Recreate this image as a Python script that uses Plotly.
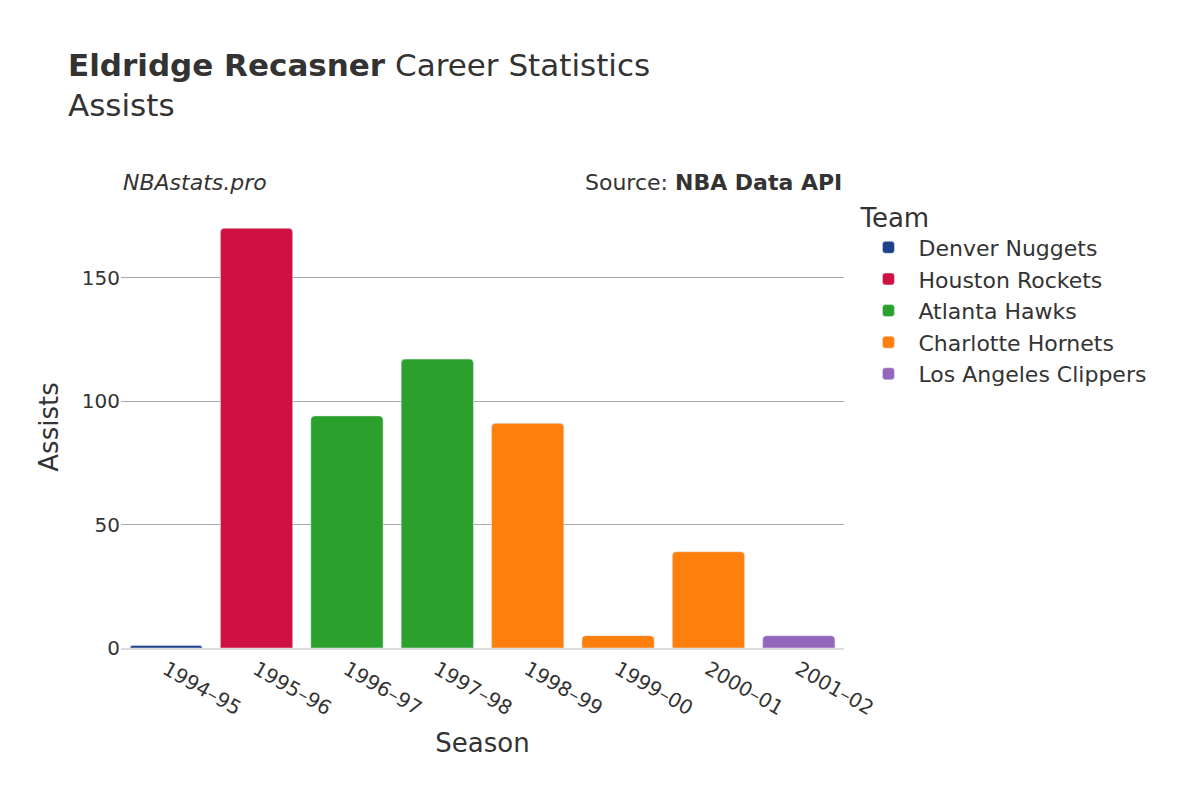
import plotly.graph_objects as go

seasons = ['1994–95', '1995–96', '1996–97', '1997–98', '1998–99', '1999–00', '2000–01', '2001–02']
teams = ['Denver Nuggets', 'Houston Rockets', 'Atlanta Hawks', 'Atlanta Hawks',
         'Charlotte Hornets', 'Charlotte Hornets', 'Charlotte Hornets', 'Los Angeles Clippers']
assists = [1, 170, 94, 117, 91, 5, 39, 5]

team_order = ['Denver Nuggets', 'Houston Rockets', 'Atlanta Hawks', 'Charlotte Hornets', 'Los Angeles Clippers']
team_colors = {
    'Denver Nuggets': '#1d428a',
    'Houston Rockets': '#ce1141',
    'Atlanta Hawks': '#2ca02c',
    'Charlotte Hornets': '#ff7f0e',
    'Los Angeles Clippers': '#9467bd',
}

fig = go.Figure()
for team in team_order:
    xs = [s for s, t in zip(seasons, teams) if t == team]
    ys = [a for a, t in zip(assists, teams) if t == team]
    fig.add_trace(go.Bar(x=xs, y=ys, name=team,
                         marker=dict(color=team_colors[team], cornerradius=4)))

fig.update_layout(
    width=1200, height=800,
    font=dict(family='DejaVu Sans', size=20, color='#333'),
    plot_bgcolor='white', paper_bgcolor='white',
    title=dict(text='<b>Eldridge Recasner</b> Career Statistics<br>Assists',
               x=0.05, y=0.915, xanchor='left', yanchor='top', font=dict(size=31)),
    margin=dict(l=113, r=364, t=198, b=160, autoexpand=False),
    bargap=0.2,
    showlegend=True,
    legend=dict(title=dict(text='Team', font=dict(size=26)), x=1.02, y=1.03,
                xanchor='left', yanchor='top', font=dict(size=22), itemwidth=50),
    xaxis=dict(title=dict(text='Season', font=dict(size=26)), tickangle=30,
               categoryorder='array', categoryarray=seasons,
               showline=True, linecolor='#ddd', linewidth=2),
    yaxis=dict(title=dict(text='Assists', font=dict(size=26)), range=[0, 179],
               tickvals=[0, 50, 100, 150], gridcolor='#aaa', zeroline=False),
    annotations=[
        dict(text='<i>NBAstats.pro</i>', xref='paper', yref='paper', x=0, y=1.02,
             xanchor='left', yanchor='bottom', showarrow=False, font=dict(size=22)),
        dict(text='Source: <b>NBA Data API</b>', xref='paper', yref='paper', x=1, y=1.02,
             xanchor='right', yanchor='bottom', showarrow=False, font=dict(size=22)),
    ],
)

fig.write_html('out.html')
